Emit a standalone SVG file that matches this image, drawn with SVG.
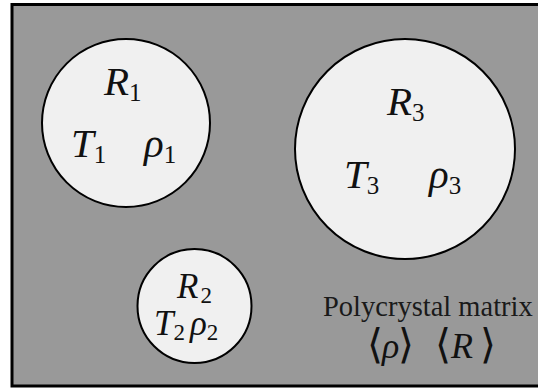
<svg xmlns="http://www.w3.org/2000/svg" width="538" height="388" viewBox="0 0 538 388">
<style>
.grain{fill:#f0f0f0;stroke:#000;stroke-width:2}
.m{font-family:"Liberation Serif","DejaVu Serif",serif;font-style:italic;fill:#111}
.big{font-size:41px}
.sm{font-size:35px}
.sb{font-style:normal;font-size:25px}
.sbs{font-style:normal;font-size:23px}
.lbl{font-family:"Liberation Serif","DejaVu Serif",serif;font-size:28.5px;fill:#1a1a1a}
.br{font-family:"DejaVu Serif","Liberation Serif",serif;font-style:normal;font-size:41px}
</style>
<rect id="matrix" x="12" y="4.5" width="540" height="381.5" fill="#999999" stroke="#000" stroke-width="3"/>
<g id="connectors"/>
<g id="grain1">
<circle class="grain" cx="126" cy="123" r="84"/>
<text class="m big" x="104" y="95">R<tspan class="sb" dy="6">1</tspan></text>
<text class="m big" x="71" y="157">T<tspan class="sb" dy="6">1</tspan></text>
<text class="m big" x="144" y="157">ρ<tspan class="sb" dy="6">1</tspan></text>
</g>
<g id="grain2">
<circle class="grain" cx="194.5" cy="306" r="57"/>
<text class="m sm" x="177" y="298">R<tspan class="sbs" dx="2" dy="5">2</tspan></text>
<text class="m sm" x="154" y="335">T<tspan class="sbs" dy="5">2</tspan></text>
<text class="m sm" x="190" y="335">ρ<tspan class="sbs" dy="5">2</tspan></text>
</g>
<g id="grain3">
<circle class="grain" cx="405" cy="149" r="110"/>
<text class="m big" x="387" y="115">R<tspan class="sb" dy="6">3</tspan></text>
<text class="m big" x="344" y="188">T<tspan class="sb" dy="6">3</tspan></text>
<text class="m big" x="429" y="188">ρ<tspan class="sb" dy="6">3</tspan></text>
</g>
<g id="matrix-label">
<text class="lbl" x="323" y="316">Polycrystal matrix</text>
<text class="m" style="font-size:36px" y="358"><tspan class="br" x="367">⟨</tspan><tspan x="382">ρ</tspan><tspan class="br" x="398">⟩</tspan><tspan class="br" x="435">⟨</tspan><tspan x="451">R</tspan><tspan class="br" x="480">⟩</tspan></text>
</g>
</svg>
